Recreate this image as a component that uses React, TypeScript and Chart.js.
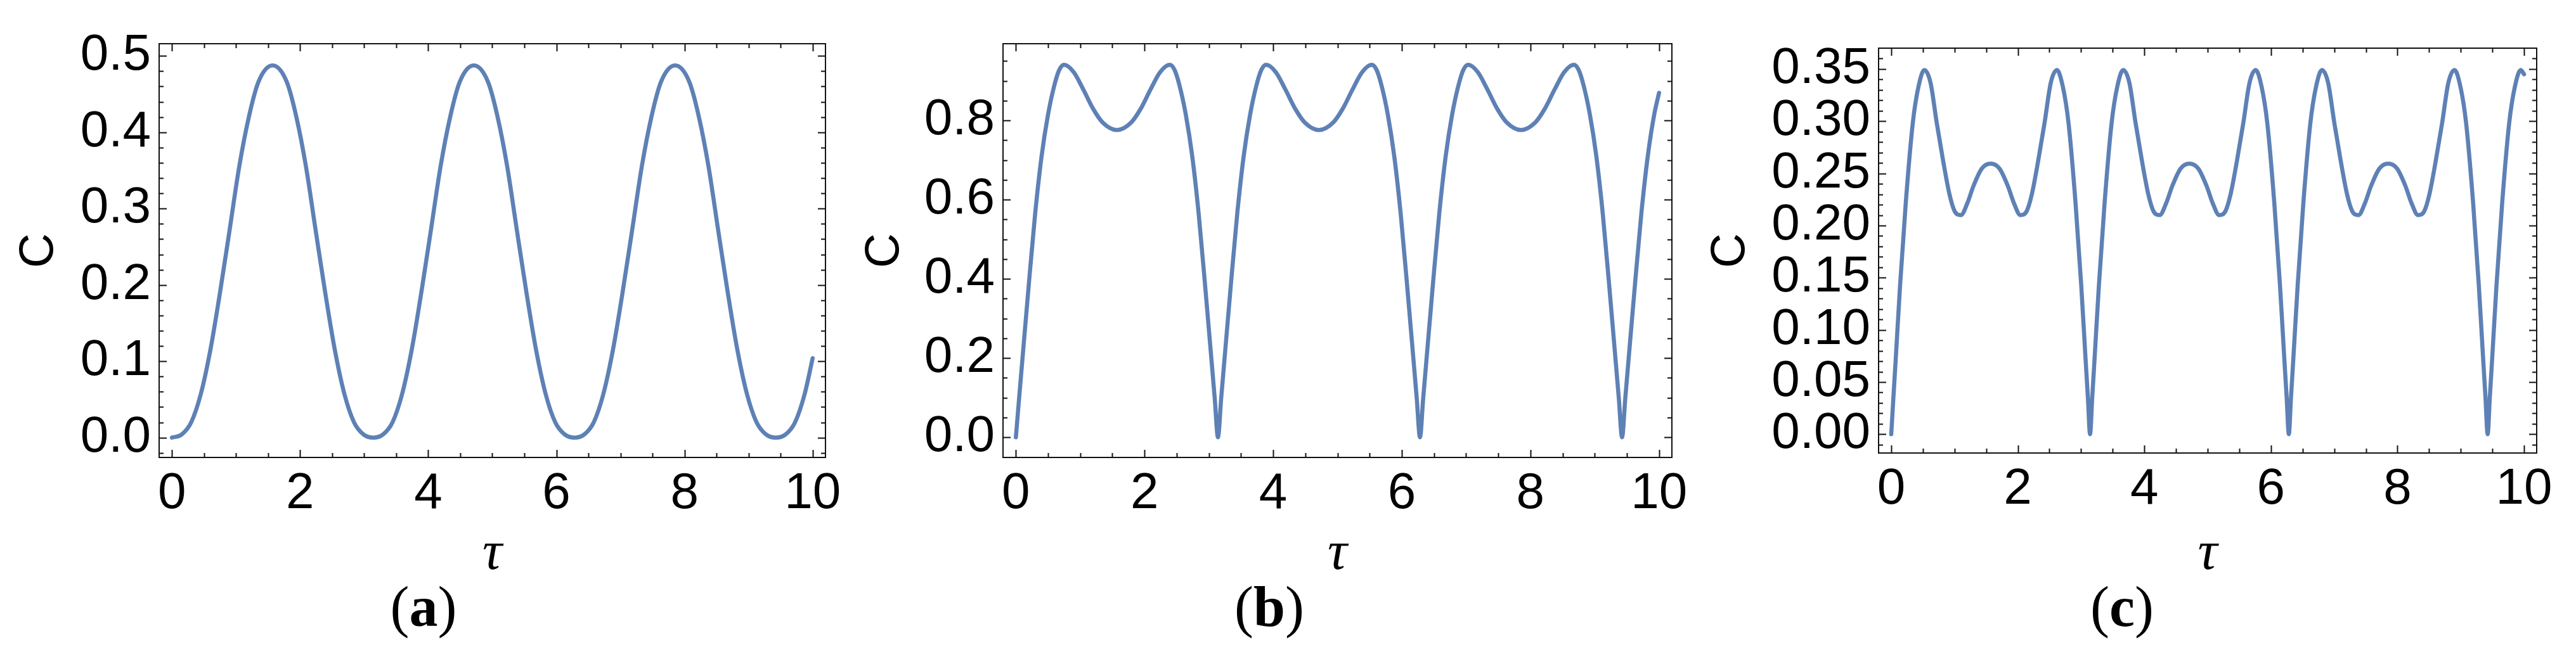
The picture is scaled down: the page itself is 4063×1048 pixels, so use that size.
import React, { useEffect, useRef } from "react";
import { Chart, registerables } from "chart.js";

Chart.register(...registerables);

// ---------- data ----------
const TAU_A = [
  0, 0.15, 0.3, 0.45, 0.6, 0.75, 0.9, 1.05, 1.2, 1.35, 1.571,
  1.792, 1.942, 2.092, 2.242, 2.392, 2.542, 2.692, 2.842, 2.992, 3.142,
  3.292, 3.442, 3.592, 3.742, 3.892, 4.042, 4.192, 4.342, 4.492, 4.712,
  4.933, 5.083, 5.233, 5.383, 5.533, 5.683, 5.833, 5.983, 6.133, 6.283,
  6.433, 6.583, 6.733, 6.883, 7.033, 7.183, 7.333, 7.483, 7.633, 7.854,
  8.075, 8.225, 8.375, 8.525, 8.675, 8.825, 8.975, 9.125, 9.275, 9.425,
  9.575, 9.725, 9.875, 10,
];
const C_A = [
  0,
  0.004, 0.02, 0.057, 0.115, 0.19, 0.272, 0.355, 0.42, 0.466, 0.4875,
  0.466, 0.42, 0.355, 0.272, 0.19, 0.115, 0.057, 0.02, 0.004, 0,
  0.004, 0.02, 0.057, 0.115, 0.19, 0.272, 0.355, 0.42, 0.466, 0.4875,
  0.466, 0.42, 0.355, 0.272, 0.19, 0.115, 0.057, 0.02, 0.004, 0,
  0.004, 0.02, 0.057, 0.115, 0.19, 0.272, 0.355, 0.42, 0.466, 0.4875,
  0.466, 0.42, 0.355, 0.272, 0.19, 0.115, 0.057, 0.02, 0.004, 0,
  0.004, 0.02, 0.057, 0.104,
];

const TAU_B = [
  0, 0.05, 0.1, 0.2, 0.3, 0.4, 0.5, 0.6, 0.675, 0.75, 0.9, 1.05, 1.2, 1.35, 1.571,
  1.792, 1.942, 2.092, 2.242, 2.392, 2.467, 2.542, 2.642, 2.742, 2.842, 2.942, 3.042, 3.092, 3.142,
  3.192, 3.242, 3.342, 3.442, 3.542, 3.642, 3.742, 3.817, 3.892, 4.042, 4.192, 4.342, 4.492, 4.712,
  4.933, 5.083, 5.233, 5.383, 5.533, 5.608, 5.683, 5.783, 5.883, 5.983, 6.083, 6.183, 6.233, 6.283,
  6.333, 6.383, 6.483, 6.583, 6.683, 6.783, 6.883, 6.958, 7.033, 7.183, 7.333, 7.483, 7.633, 7.854,
  8.075, 8.225, 8.375, 8.525, 8.675, 8.75, 8.825, 8.925, 9.025, 9.125, 9.225, 9.325, 9.375, 9.425,
  9.475, 9.525, 9.625, 9.725, 9.825, 9.925, 10,
];
const C_B = [
  0,
  0.098, 0.194, 0.384, 0.565, 0.71, 0.815, 0.89, 0.928, 0.9406, 0.922, 0.878, 0.83, 0.795, 0.776,
  0.795, 0.83, 0.878, 0.922, 0.9406, 0.928, 0.89, 0.815, 0.71, 0.565, 0.384, 0.194, 0.098, 0,
  0.098, 0.194, 0.384, 0.565, 0.71, 0.815, 0.89, 0.928, 0.9406, 0.922, 0.878, 0.83, 0.795, 0.776,
  0.795, 0.83, 0.878, 0.922, 0.9406, 0.928, 0.89, 0.815, 0.71, 0.565, 0.384, 0.194, 0.098, 0,
  0.098, 0.194, 0.384, 0.565, 0.71, 0.815, 0.89, 0.928, 0.9406, 0.922, 0.878, 0.83, 0.795, 0.776,
  0.795, 0.83, 0.878, 0.922, 0.9406, 0.928, 0.89, 0.815, 0.71, 0.565, 0.384, 0.194, 0.098, 0,
  0.098, 0.194, 0.384, 0.565, 0.71, 0.815, 0.87,
];

const TAU_C = [
  0, 0.035, 0.07, 0.14, 0.23, 0.34, 0.43, 0.523, 0.62, 0.72, 0.82, 0.92, 1.0, 1.1, 1.2, 1.3, 1.43, 1.571,
  1.712, 1.842, 1.942, 2.042, 2.142, 2.222, 2.322, 2.422, 2.522, 2.619, 2.712, 2.802, 2.912, 3.002, 3.072, 3.107, 3.142,
  3.177, 3.212, 3.282, 3.372, 3.482, 3.572, 3.665, 3.762, 3.862, 3.962, 4.062, 4.142, 4.242, 4.342, 4.442, 4.572, 4.712,
  4.853, 4.983, 5.083, 5.183, 5.283, 5.363, 5.463, 5.563, 5.663, 5.76, 5.853, 5.943, 6.053, 6.143, 6.213, 6.248, 6.283,
  6.318, 6.353, 6.423, 6.513, 6.623, 6.713, 6.806, 6.903, 7.003, 7.103, 7.203, 7.283, 7.383, 7.483, 7.583, 7.713, 7.854,
  7.995, 8.125, 8.225, 8.325, 8.425, 8.505, 8.605, 8.705, 8.805, 8.902, 8.995, 9.085, 9.195, 9.285, 9.355, 9.39, 9.425,
  9.46, 9.495, 9.565, 9.655, 9.765, 9.855, 9.948, 10,
];
const C_C = [
  0,
  0.036, 0.071, 0.143, 0.222, 0.298, 0.333, 0.349, 0.337, 0.298, 0.262, 0.23, 0.214, 0.21, 0.221, 0.238, 0.2545, 0.2593,
  0.2545, 0.238, 0.221, 0.21, 0.214, 0.23, 0.262, 0.298, 0.337, 0.349, 0.333, 0.298, 0.222, 0.143, 0.071, 0.036, 0,
  0.036, 0.071, 0.143, 0.222, 0.298, 0.333, 0.349, 0.337, 0.298, 0.262, 0.23, 0.214, 0.21, 0.221, 0.238, 0.2545, 0.2593,
  0.2545, 0.238, 0.221, 0.21, 0.214, 0.23, 0.262, 0.298, 0.337, 0.349, 0.333, 0.298, 0.222, 0.143, 0.071, 0.036, 0,
  0.036, 0.071, 0.143, 0.222, 0.298, 0.333, 0.349, 0.337, 0.298, 0.262, 0.23, 0.214, 0.21, 0.221, 0.238, 0.2545, 0.2593,
  0.2545, 0.238, 0.221, 0.21, 0.214, 0.23, 0.262, 0.298, 0.337, 0.349, 0.333, 0.298, 0.222, 0.143, 0.071, 0.036, 0,
  0.036, 0.071, 0.143, 0.222, 0.298, 0.333, 0.349, 0.345,
];

// ---------- ticks & text ----------
const X_TICKS = [0, 2, 4, 6, 8, 10];
const Y_TICKS_A = [0, 0.1, 0.2, 0.3, 0.4, 0.5];
const Y_TICKS_B = [0, 0.2, 0.4, 0.6, 0.8];
const Y_TICKS_C = [0, 0.05, 0.1, 0.15, 0.2, 0.25, 0.3, 0.35];
const PANEL_LABELS = ["a", "b", "c"];
const X_TITLE = "τ";
const Y_TITLE = "C";

// ---------- style ----------
const LINE_COLOR = "rgb(94,129,181)";
const SANS = '"Liberation Sans", Arial, sans-serif';
const SERIF = '"Liberation Serif", "Times New Roman", serif';
const PAGE_W = 4063;
const PAGE_H = 1048;

function steps(from: number, to: number, step: number): number[] {
  const out: number[] = [];
  for (let i = 0; ; i++) {
    const v = from + i * step;
    if (v > to + 1e-9) break;
    out.push(+v.toFixed(6));
  }
  return out;
}

const framePlugin = {
  id: "mmaFrame",
  afterDatasetsDraw(chart: any, _args: any, opts: any) {
    const { ctx, chartArea: a, scales } = chart;
    const xs = scales.x;
    const ys = scales.y;
    const isMajor = (list: number[], v: number) => list.some((m) => Math.abs(m - v) < 1e-6);
    ctx.save();
    ctx.strokeStyle = "#111";
    ctx.lineWidth = 2;
    ctx.lineCap = "butt";
    ctx.beginPath();
    for (const v of opts.xMinor) {
      const p = Math.round(xs.getPixelForValue(v)) + 0.5;
      const len = isMajor(opts.xMajor, v) ? 12 : 7;
      ctx.moveTo(p, a.bottom);
      ctx.lineTo(p, a.bottom - len);
      ctx.moveTo(p, a.top);
      ctx.lineTo(p, a.top + len);
    }
    for (const v of opts.yMinor) {
      const p = Math.round(ys.getPixelForValue(v)) + 0.5;
      const len = isMajor(opts.yMajor, v) ? 12 : 7;
      ctx.moveTo(a.left, p);
      ctx.lineTo(a.left + len, p);
      ctx.moveTo(a.right, p);
      ctx.lineTo(a.right - len, p);
    }
    ctx.stroke();
    ctx.strokeRect(a.left, a.top, a.right - a.left, a.bottom - a.top);
    ctx.restore();
  },
};

type PanelSpec = {
  left: number;
  width: number;
  areaLeft: number;
  areaRight: number;
  areaTop: number;
  areaBottom: number;
  yMin: number;
  yMax: number;
  yTicks: number[];
  yMinor: number[];
  decimals: number;
  tau: number[];
  c: number[];
  yTitleX: number;
  label: string;
  labelX: number;
};

const PANELS: PanelSpec[] = [
  {
    left: 0, width: 1345, areaLeft: 251, areaRight: 1306, areaTop: 69, areaBottom: 722,
    yMin: -0.026, yMax: 0.516, yTicks: Y_TICKS_A, yMinor: steps(-0.02, 0.5, 0.02), decimals: 1,
    tau: TAU_A, c: C_A, yTitleX: 62, label: PANEL_LABELS[0], labelX: 668,
  },
  {
    left: 1345, width: 1345, areaLeft: 237, areaRight: 1292, areaTop: 69, areaBottom: 722,
    yMin: -0.051, yMax: 0.994, yTicks: Y_TICKS_B, yMinor: steps(0, 0.95, 0.05), decimals: 1,
    tau: TAU_B, c: C_B, yTitleX: 51, label: PANEL_LABELS[1], labelX: 2002,
  },
  {
    left: 2690, width: 1373, areaLeft: 273, areaRight: 1311, areaTop: 76, areaBottom: 715,
    yMin: -0.018, yMax: 0.37, yTicks: Y_TICKS_C, yMinor: steps(-0.01, 0.36, 0.01), decimals: 2,
    tau: TAU_C, c: C_C, yTitleX: 40, label: PANEL_LABELS[2], labelX: 3347,
  },
];

function Panel({ spec }: { spec: PanelSpec }) {
  const ref = useRef<HTMLCanvasElement | null>(null);
  useEffect(() => {
    if (!ref.current) return;
    const s = spec;
    const chart = new Chart(ref.current, {
      type: "line",
      data: {
        datasets: [
          {
            data: s.tau.map((t, i) => ({ x: t, y: s.c[i] })),
            borderColor: LINE_COLOR,
            borderWidth: 6.5,
            pointRadius: 0,
            fill: false,
            cubicInterpolationMode: "monotone",
            borderJoinStyle: "round",
            borderCapStyle: "round",
          } as any,
        ],
      },
      options: {
        responsive: false,
        animation: false,
        devicePixelRatio: 1,
        layout: { padding: { left: 0, top: s.areaTop, right: s.width - s.areaRight, bottom: 0 } },
        plugins: {
          legend: { display: false },
          tooltip: { enabled: false },
          mmaFrame: {
            xMajor: X_TICKS,
            xMinor: steps(0, 10, 0.5),
            yMajor: s.yTicks,
            yMinor: s.yMinor,
          },
        } as any,
        scales: {
          x: {
            type: "linear",
            min: -0.2,
            max: 10.2,
            afterBuildTicks: (sc: any) => {
              sc.ticks = X_TICKS.map((v) => ({ value: v }));
            },
            afterFit: (sc: any) => {
              sc.height = PAGE_H - s.areaBottom;
            },
            grid: { display: false, drawTicks: false },
            border: { display: false },
            ticks: {
              font: { family: SANS, size: 80, lineHeight: 1 },
              color: "#000",
              padding: 18,
              maxRotation: 0,
              autoSkip: false,
              callback: (v: any) => String(Math.round(Number(v))),
            },
            title: {
              display: true,
              text: X_TITLE,
              color: "#000",
              font: { family: SERIF, size: 86, style: "italic", lineHeight: 1 },
              padding: { top: 0, bottom: 130 },
            },
          },
          y: {
            type: "linear",
            min: s.yMin,
            max: s.yMax,
            afterBuildTicks: (sc: any) => {
              sc.ticks = s.yTicks.map((v) => ({ value: v }));
            },
            afterFit: (sc: any) => {
              sc.width = s.areaLeft;
            },
            grid: { display: false, drawTicks: false },
            border: { display: false },
            ticks: {
              font: { family: SANS, size: 80, lineHeight: 1 },
              color: "#000",
              padding: 13,
              autoSkip: false,
              callback: (v: any) => Number(v).toFixed(s.decimals),
            },
            title: {
              display: true,
              text: Y_TITLE,
              color: "#000",
              font: { family: SANS, size: 76, lineHeight: 1 },
              padding: { top: s.yTitleX - 38, bottom: 0 },
            },
          },
        },
      } as any,
      plugins: [framePlugin as any],
    });
    return () => chart.destroy();
  }, [spec]);

  return (
    <>
      <canvas
        ref={ref}
        width={spec.width}
        height={PAGE_H}
        style={{ position: "absolute", left: spec.left, top: 0, width: spec.width, height: PAGE_H }}
      />
      <div
        style={{
          position: "absolute",
          left: spec.labelX - 100,
          width: 200,
          top: 913,
          textAlign: "center",
          fontFamily: SERIF,
          fontSize: 90,
          lineHeight: "90px",
          color: "#000",
          whiteSpace: "nowrap",
        }}
      >
        (<b>{spec.label}</b>)
      </div>
    </>
  );
}

export default function App() {
  return (
    <div
      style={{
        position: "absolute",
        left: 0,
        top: 0,
        width: PAGE_W,
        height: PAGE_H,
        background: "#fff",
        overflow: "hidden",
      }}
    >
      {PANELS.map((p, i) => (
        <Panel key={i} spec={p} />
      ))}
    </div>
  );
}
